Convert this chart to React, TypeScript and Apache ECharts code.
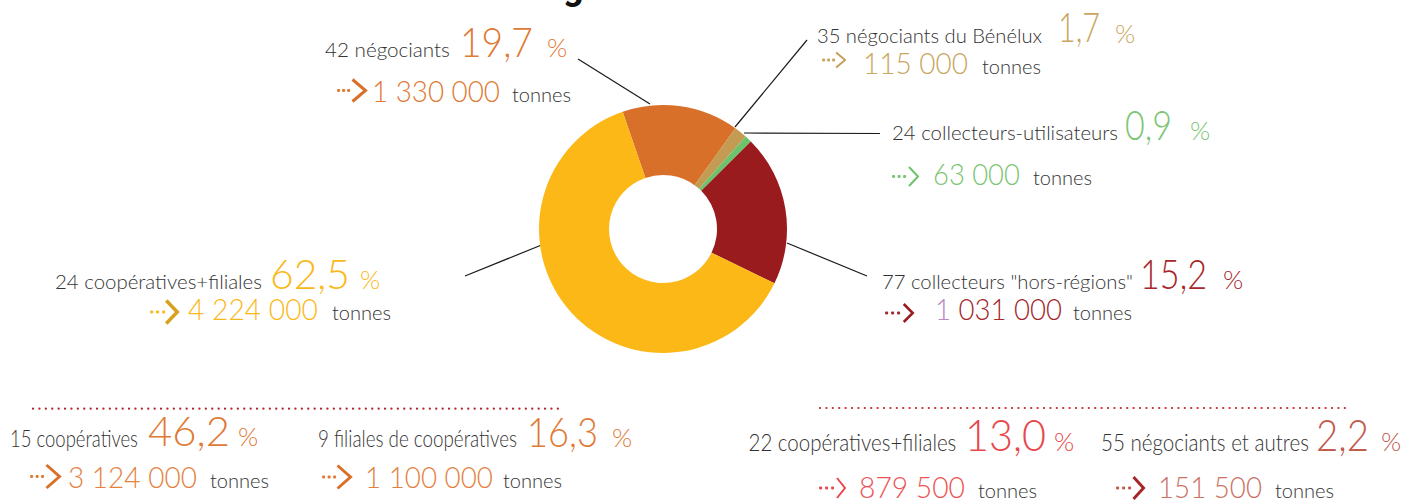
import React, { useEffect, useRef } from 'react';
import * as echarts from 'echarts';

// ---------- data ----------
const categories = [
  '42 négociants',
  '35 négociants du Bénélux',
  '24 collecteurs-utilisateurs',
  '77 collecteurs "hors-régions"',
  '24 coopératives+filiales',
];
const labelPercents = ['19,7', '1,7', '0,9', '15,2', '62,5'];
const tonnages = ['1 330 000', '115 000', '63 000', '1 031 000', '4 224 000'];
// slice sizes as drawn in the ring
const sliceShares = [15.2, 1.7, 0.9, 19.7, 62.5];
const sliceColors = ['#D9702A', '#C49B52', '#6DC36B', '#991B1E', '#FBB816'];
const labelColors = ['#DF7A35', '#C9A660', '#7BC574', '#A5262B', '#FBB81A'];

const subCategories = [
  '15 coopératives',
  '9 filiales de coopératives',
  '22 coopératives+filiales',
  '55 négociants et autres',
];
const subPercents = ['46,2', '16,3', '13,0', '2,2'];
const subTonnages = ['3 124 000', '1 100 000', '879 500', '151 500'];
const subColors = ['#DF7A35', '#DF7A35', '#E8484C', '#C25A4E'];
const subNumColors = ['#E3823F', '#E3823F', '#EC5356', '#CB7263'];
const unit = 'tonnes';

// ---------- layout (positions and widths only) ----------
const FONT = 'Lato, Roboto, "Noto Sans", sans-serif';
const K = 0.387;
const DARK = '#333333';
const UNIT_W = 59;

// lx/lw: label x & width, px/pw: percent x & width, ux: % x, b1: baseline row 1,
// nx/nw: tonnage x & width, tx: "tonnes" x, b2: baseline row 2
const mainLayout = [
  { lx: 325, lw: 125, px: 460, pw: 73, ux: 547, b1: 57, nx: 372, nw: 128, tx: 512, b2: 101.5 },
  { lx: 817, lw: 225, px: 1058, pw: 42, ux: 1115, b1: 42.7, nx: 863, nw: 105, tx: 982, b2: 73.5 },
  { lx: 892, lw: 226, px: 1125, pw: 47, ux: 1190, b1: 140, nx: 933, nw: 87, tx: 1033, b2: 185 },
  { lx: 882, lw: 251, px: 1140, pw: 67, ux: 1223, b1: 289, nx: 935, nw: 127, tx: 1073, b2: 320 },
  { lx: 55, lw: 207, px: 270, pw: 80, ux: 360, b1: 289, nx: 188, nw: 130, tx: 332, b2: 320 },
];
const mainArrows = [
  { x0: 337, tip: 367, cy: 90.5, w: 13, h: 22, lw: 3, gap: 5 },
  { x0: 822, tip: 846, cy: 60, w: 9, h: 15, lw: 1.8, gap: 5 },
  { x0: 892, tip: 919, cy: 176.5, w: 9, h: 19, lw: 2, gap: 5.5 },
  { x0: 885, tip: 914, cy: 313, w: 9, h: 18, lw: 2.5, gap: 6 },
  { x0: 150, tip: 179, cy: 312, w: 11, h: 23, lw: 3.5, gap: 6 },
];
const arrowChevronColors = ['#D9702A', '#C49B52', '#6DC36B', '#991B1E', '#D6A21F'];
const leaderLines = [
  [578, 59, 650, 104],
  [807, 40, 735, 127],
  [744, 133, 880, 133.5],
  [787, 243, 867, 276],
  [465, 276, 544, 244],
];
const subLayout = [
  { lx: 10, lw: 128, px: 148, pw: 82, ux: 238, b1: 446.3, nx: 68, nw: 129, tx: 210, b2: 487.3, pSize: 42 },
  { lx: 318, lw: 199, px: 527, pw: 71, ux: 612, b1: 447, nx: 365, nw: 128, tx: 503, b2: 488, pSize: 42 },
  { lx: 748.5, lw: 208, px: 965, pw: 81, ux: 1054, b1: 451, nx: 859, nw: 106, tx: 978, b2: 497.5, pSize: 44 },
  { lx: 1101, lw: 208, px: 1316, pw: 53, ux: 1381, b1: 451, nx: 1158, nw: 104, tx: 1275, b2: 497.5, pSize: 44 },
];
const subArrows = [
  { x0: 30, tip: 61, cy: 476.5, w: 13, h: 23, lw: 3, gap: 5.5 },
  { x0: 322, tip: 352, cy: 477, w: 13, h: 23, lw: 3, gap: 5.5 },
  { x0: 819, tip: 846, cy: 488, w: 8, h: 20, lw: 2, gap: 6 },
  { x0: 1116, tip: 1145, cy: 488, w: 10, h: 22, lw: 3, gap: 6 },
];
const subChevronColors = ['#D9702A', '#D9702A', '#E8484C', '#A5262B'];
const dottedLines = [
  { x1: 33, x2: 558, y: 408.7, color: '#B3282B' },
  { x1: 820, x2: 1346, y: 408, color: '#C42A2E' },
];

let measureCtx: CanvasRenderingContext2D | null = null;
function measure(text: string, size: number, weight: number | string = 300) {
  if (!measureCtx) measureCtx = document.createElement('canvas').getContext('2d');
  if (!measureCtx) return text.length * size * 0.5;
  measureCtx.font = `${weight} ${size}px ${FONT}`;
  return measureCtx.measureText(text).width;
}
function fitScale(text: string, size: number, target: number) {
  const w = measure(text, size);
  if (!(w > 0)) return 1;
  return Math.max(0.6, Math.min(1.15, target / w));
}

function txt(text: string, x: number, baseline: number, size: number, fill: string, opts: any = {}) {
  return {
    type: 'text',
    x,
    y: baseline - K * size,
    scaleX: opts.scaleX ?? 1,
    silent: true,
    style: {
      text,
      fontSize: size,
      fontFamily: FONT,
      fontWeight: opts.weight ?? 300,
      fill,
      align: 'left',
      verticalAlign: 'middle',
    },
  };
}
function fitTxt(text: string, x: number, baseline: number, size: number, fill: string, width: number) {
  return txt(text, x, baseline, size, fill, { scaleX: fitScale(text, size, width) });
}

function arrow(a: any, dotColor: string, chevColor: string) {
  const children: any[] = [];
  for (let i = 0; i < 3; i++) {
    children.push({
      type: 'circle',
      silent: true,
      shape: { cx: a.x0 + 1.6 + i * a.gap, cy: a.cy, r: 1.6 },
      style: { fill: dotColor },
    });
  }
  const tip = a.tip - a.lw / 2;
  children.push({
    type: 'polyline',
    silent: true,
    shape: {
      points: [
        [tip - a.w, a.cy - a.h / 2],
        [tip, a.cy],
        [tip - a.w, a.cy + a.h / 2],
      ],
    },
    style: { stroke: chevColor, lineWidth: a.lw, fill: null, lineJoin: 'miter', lineCap: 'butt' },
  });
  return { type: 'group', silent: true, children };
}

function buildGraphics() {
  const els: any[] = [];
  // cut-off title descender
  els.push({
    type: 'text', x: 563, y: -1 - 0.342 * 36, silent: true,
    style: { text: 'g', fontSize: 36, fontFamily: 'Roboto, sans-serif', fontWeight: 'bold', fill: '#111111', align: 'left', verticalAlign: 'middle' },
  });

  leaderLines.forEach(([x1, y1, x2, y2]) => {
    els.push({ type: 'line', silent: true, shape: { x1, y1, x2, y2 }, style: { stroke: '#1a1a1a', lineWidth: 1.2 } });
  });

  categories.forEach((name, i) => {
    const L = mainLayout[i];
    const c = labelColors[i];
    els.push(fitTxt(name, L.lx, L.b1, 20, DARK, L.lw));
    els.push(fitTxt(labelPercents[i], L.px, L.b1, 42, c, L.pw));
    els.push(txt('%', L.ux, L.b1, 26, c));
    const sx = fitScale(tonnages[i], 30, L.nw);
    if (i === 3) {
      const parts = tonnages[i].split(' ');
      const head = parts[0];
      els.push(txt(head, L.nx, L.b2, 30, '#B68BC2', { scaleX: sx }));
      els.push(txt(parts.slice(1).join(' '), L.nx + measure(head + ' ', 30) * sx, L.b2, 30, c, { scaleX: sx }));
    } else {
      els.push(txt(tonnages[i], L.nx, L.b2, 30, c, { scaleX: sx }));
    }
    els.push(fitTxt(unit, L.tx, L.b2, 20, DARK, UNIT_W));
    els.push(arrow(mainArrows[i], c, arrowChevronColors[i]));
  });

  dottedLines.forEach((d) => {
    els.push({
      type: 'line',
      silent: true,
      shape: { x1: d.x1, y1: d.y, x2: d.x2, y2: d.y },
      style: { stroke: d.color, lineWidth: 2.2, lineDash: [0.1, 6.3], lineCap: 'round' },
    });
  });

  subCategories.forEach((name, i) => {
    const L = subLayout[i];
    const c = subColors[i];
    els.push(fitTxt(name, L.lx, L.b1, 23, DARK, L.lw));
    els.push(fitTxt(subPercents[i], L.px, L.b1, L.pSize, c, L.pw));
    els.push(txt('%', L.ux, L.b1, 26, c));
    els.push(fitTxt(subTonnages[i], L.nx, L.b2, 30, subNumColors[i], L.nw));
    els.push(fitTxt(unit, L.tx, L.b2, 20, DARK, UNIT_W));
    els.push(arrow(subArrows[i], c, subChevronColors[i]));
  });
  return els;
}

export default function App() {
  const ref = useRef<HTMLDivElement>(null);
  useEffect(() => {
    document.body.style.margin = '0';
    if (!ref.current) return;
    const chart = echarts.init(ref.current, null, { renderer: 'svg' });
    chart.setOption({
      animation: false,
      backgroundColor: '#ffffff',
      series: [
        {
          type: 'pie',
          center: [663, 229],
          radius: [54, 124],
          startAngle: 109,
          clockwise: true,
          silent: true,
          avoidLabelOverlap: false,
          label: { show: false },
          labelLine: { show: false },
          itemStyle: { borderWidth: 0 },
          data: categories.map((name, i) => ({
            name,
            value: sliceShares[i],
            itemStyle: { color: sliceColors[i] },
          })),
        },
      ],
      graphic: { elements: buildGraphics() },
    });
    return () => chart.dispose();
  }, []);
  return <div ref={ref} style={{ width: 1404, height: 503 }} />;
}
